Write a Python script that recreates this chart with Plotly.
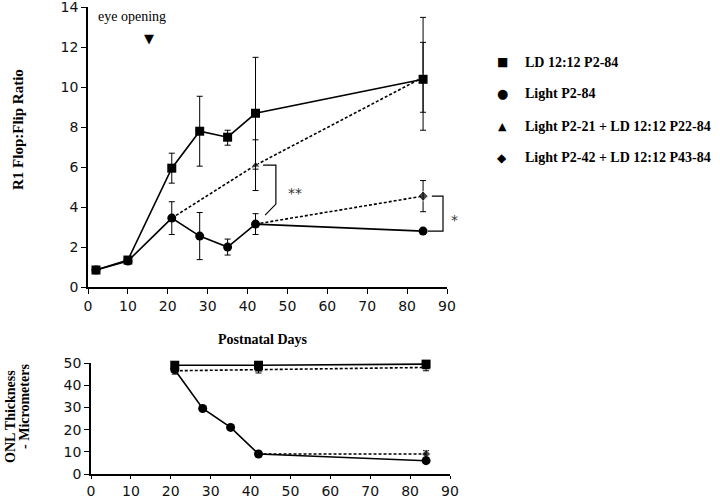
import plotly.graph_objects as go

# ---------------- data ----------------
# Top panel: R1 Flop:Flip ratio
ld_x = [2, 10, 21, 28, 35, 42, 84]
ld_y = [0.85, 1.35, 5.95, 7.8, 7.5, 8.7, 10.4]
ld_err_plus = [0, 0, 0.75, 1.75, 0.35, 2.8, 3.1]
ld_err_minus = [0, 0, 0.75, 1.75, 0.4, 2.8, 2.55]

light_x = [2, 10, 21, 28, 35, 42, 84]
light_y = [0.85, 1.3, 3.45, 2.55, 2.0, 3.15, 2.8]
light_err = [0, 0, 0.82, 1.18, 0.4, 0.52, 0.12]

l21_x = [21, 42, 84]
l21_y = [3.45, 6.1, 10.5]
l21_err = [0, 1.27, 1.75]

l42_x = [42, 84]
l42_y = [3.15, 4.55]
l42_err = [0, 0.78]

# Bottom panel: ONL thickness
b_ld_x = [21, 42, 84]
b_ld_y = [49, 49, 49.5]
b_ld_err = [2.0, 1.8, 1.5]

b_light_x = [21, 28, 35, 42, 84]
b_light_y = [47, 29.5, 21, 9, 6]
b_light_err = [0, 0.6, 0.6, 0.6, 0.6]

b_l21_x = [21, 42, 84]
b_l21_y = [46.5, 47, 48]
b_l21_err = [1.5, 1.5, 1.5]

b_l42_x = [42, 84]
b_l42_y = [9, 9]
b_l42_err = [0, 1.5]

x_ticks = [0, 10, 20, 30, 40, 50, 60, 70, 80, 90]
top_y_ticks = [0, 2, 4, 6, 8, 10, 12, 14]
bot_y_ticks = [0, 10, 20, 30, 40, 50]

legend_labels = ["LD 12:12 P2-84", "Light P2-84",
                 "Light P2-21 + LD 12:12 P22-84", "Light P2-42 + LD 12:12 P43-84"]
legend_symbols = ["■", "●", "▲", "◆"]

# ---------------- figure ----------------
W, H = 720, 498
fig = go.Figure()
BLACK = "black"
DASH = "3px,2px"


def err(arr, minus=None):
    d = dict(type="data", array=arr, color=BLACK, thickness=1, width=3, visible=True)
    if minus is not None:
        d["arrayminus"] = minus
        d["symmetric"] = False
    return d


def add(x, y, e, symbol, size, dash, xa, ya, sizes=None, eminus=None):
    fig.add_trace(go.Scatter(
        x=x, y=y, mode="lines+markers", xaxis=xa, yaxis=ya,
        line=dict(color=BLACK, width=1.6, dash=dash),
        marker=dict(symbol=symbol, size=sizes if sizes is not None else size, color=BLACK),
        error_y=err(e, eminus), showlegend=False, cliponaxis=False))


# top panel
add(l21_x, l21_y, l21_err, "triangle-up", 8, DASH, "x", "y", sizes=[0, 8, 8])
add(l42_x, l42_y, l42_err, "diamond", 8, DASH, "x", "y", sizes=[0, 8])
add(light_x, light_y, light_err, "circle", 9, "solid", "x", "y")
add(ld_x, ld_y, ld_err_plus, "square", 9, "solid", "x", "y", eminus=ld_err_minus)

# bottom panel
add(b_l21_x, b_l21_y, b_l21_err, "triangle-up", 7, DASH, "x2", "y2")
add(b_l42_x, b_l42_y, b_l42_err, "diamond", 7, DASH, "x2", "y2", sizes=[0, 7])
add(b_light_x, b_light_y, b_light_err, "circle", 9, "solid", "x2", "y2")
add(b_ld_x, b_ld_y, b_ld_err, "square", 9, "solid", "x2", "y2")

tickfont = dict(family="DejaVu Sans", size=14, color="#111")
axis_common = dict(showgrid=False, zeroline=False, showline=True, linecolor=BLACK,
                   linewidth=1.5, ticks="outside", tickwidth=1.2,
                   tickcolor=BLACK, tickfont=tickfont, automargin=False,
                   ticklabeloverflow="allow")

fig.update_layout(
    width=W, height=H, margin=dict(l=0, r=0, t=0, b=0),
    paper_bgcolor="white", plot_bgcolor="white",
    xaxis=dict(domain=[88 / W, 447 / W], range=[0, 90], tickvals=x_ticks,
               anchor="y", ticklen=5, **axis_common),
    yaxis=dict(domain=[1 - 287 / H, 1 - 7 / H], range=[0, 14.02], tickvals=top_y_ticks,
               anchor="x", ticklen=5, **axis_common),
    xaxis2=dict(domain=[91 / W, 450 / W], range=[0, 90], tickvals=x_ticks,
                anchor="y2", ticklen=3, **axis_common),
    yaxis2=dict(domain=[1 - 474 / H, 1 - 363 / H], range=[0, 50], tickvals=bot_y_ticks,
                anchor="x2", ticklen=5, **axis_common),
)

serif_b = dict(family="Liberation Serif", size=14, color=BLACK)
ann = []


def A(px, py, text, font, angle=0, xanchor="center"):
    ann.append(dict(x=px / W, y=1 - py / H, xref="paper", yref="paper", text=text,
                    textangle=angle, showarrow=False, font=font,
                    xanchor=xanchor, yanchor="middle"))


A(18, 130, "<b>R1 Flop:Flip Ratio</b>", dict(family="Liberation Serif", size=15, color=BLACK), -90)
A(263, 339, "<b>Postnatal Days</b>", serif_b)
A(10, 417, "<b>ONL Thickness</b>", serif_b, -90)
A(24, 407, "<b>- Micrometers</b>", serif_b, -90)
A(132, 17, "eye opening", dict(family="Liberation Serif", size=14, color=BLACK))
A(149, 38, "▼", dict(family="DejaVu Sans", size=13, color=BLACK))
A(295, 193, "**", dict(family="DejaVu Sans", size=14, color="#333"))
A(454, 220, "*", dict(family="DejaVu Sans", size=14, color="#333"))

leg_y = [62, 93, 126, 158]
leg_sym_size = [12, 13, 11, 12]
for lab, sym, yy, ss in zip(legend_labels, legend_symbols, leg_y, leg_sym_size):
    A(502, yy, sym, dict(family="DejaVu Sans", size=ss, color=BLACK))
    A(523, yy, "<b>" + lab + "</b>", serif_b, xanchor="left")
fig.update_layout(annotations=ann)

# significance brackets
tri42 = l21_y[1]
dia84 = l42_y[1]
lig84 = light_y[-1]
fig.add_shape(type="path", xref="x", yref="y",
              path=f"M 43.9 {tri42} L 47.1 {tri42} L 47.1 4.15 L 44.4 3.6",
              line=dict(color=BLACK, width=1.2))
fig.add_shape(type="path", xref="x", yref="y",
              path=f"M 86.2 {dia84} L 89 {dia84} L 89 {lig84} L 85.2 {lig84}",
              line=dict(color=BLACK, width=1.2))

fig.write_html("out.html", config={"displayModeBar": False},
               post_script="document.body.style.margin='0px';document.body.style.overflow='hidden';")
